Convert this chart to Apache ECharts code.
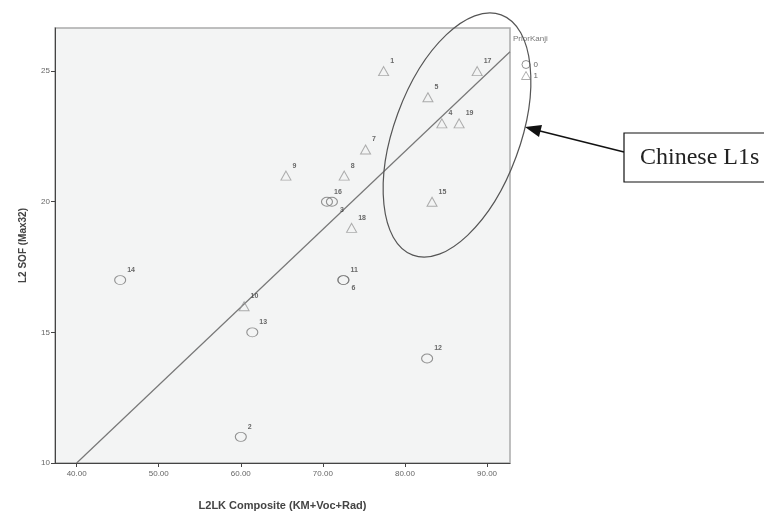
<!DOCTYPE html>
<html><head><meta charset="utf-8">
<script src="https://cdn.jsdelivr.net/npm/echarts@6/dist/echarts.min.js"></script>
<style>html,body{margin:0;padding:0;background:#fff}#c{width:764px;height:516px}</style>
</head><body><div id="c"></div>
<script>
// ---- data ----
const circleIds = ['2','3','6','11','12','13','14','16'];
const circleX   = [60.0, 71.1, 72.5, 72.5, 82.7, 61.4, 45.3, 70.5];
const circleY   = [11, 20, 17, 17, 14, 15, 17, 20];
const triIds = ['1','4','5','7','8','9','10','15','17','18','19'];
const triX   = [77.4, 84.5, 82.8, 75.2, 72.6, 65.5, 60.4, 83.3, 88.8, 73.5, 86.6];
const triY   = [25, 23, 24, 22, 21, 21, 16, 20, 25, 19, 23];
const fitX = [40, 92.8];
const fitY = [10, 25.74];
const xTicks = [40, 50, 60, 70, 80, 90];
const yTicks = [10, 15, 20, 25];
const groupNames = ['0', '1'];
const legendTitle = 'PriorKanji';
const xTitle = 'L2LK Composite (KM+Voc+Rad)';
const yTitle = 'L2 SOF (Max32)';
const noteText = 'Chinese L1s';
// labels drawn below-right instead of above-right
const belowLabels = ['3', '6'];

function pts(ids, xs, ys) {
  return ids.map((id, i) => ({
    value: [xs[i], ys[i], id],
    label: { offset: belowLabels.includes(id) ? [0, 8] : [-1, -10] }
  }));
}
const labelStyle = {
  show: true, position: 'right', distance: 2,
  formatter: p => p.value[2],
  fontSize: 7, fontWeight: 'bold', color: '#444', fontFamily: 'Arial, Liberation Sans'
};

const chart = echarts.init(document.getElementById('c'), null, {renderer: 'canvas'});
const D2R = Math.PI / 180;
chart.setOption({
  animation: false,
  backgroundColor: '#fff',
  grid: { left: 55, right: 254, top: 28, bottom: 46, show: true,
          backgroundColor: '#f3f4f4', borderColor: '#aaa', borderWidth: 1.5 },
  xAxis: {
    type: 'value', min: 37.36, max: 92.8,
    name: xTitle, nameLocation: 'middle', nameGap: 37,
    nameTextStyle: { fontSize: 11, fontWeight: 'bold', color: '#444', fontFamily: 'Arial, Liberation Sans' },
    axisLine: { show: true, lineStyle: { color: '#444', width: 1 } },
    axisTick: { show: true, length: 4, customValues: xTicks, lineStyle: { color: '#444' } },
    axisLabel: { customValues: xTicks, formatter: v => v.toFixed(2), fontSize: 8, color: '#666', margin: 7 },
    splitLine: { show: false }
  },
  yAxis: {
    type: 'value', min: 10, max: 26.65,
    name: yTitle, nameLocation: 'middle', nameGap: 27,
    nameTextStyle: { fontSize: 10, fontWeight: 'bold', color: '#444', fontFamily: 'Arial, Liberation Sans' },
    axisLine: { show: true, lineStyle: { color: '#444', width: 1 } },
    axisTick: { show: true, length: 4, customValues: yTicks, lineStyle: { color: '#444' } },
    axisLabel: { customValues: yTicks, fontSize: 8, color: '#666', margin: 5 },
    splitLine: { show: false }
  },
  legend: {
    orient: 'vertical', left: 516, top: 55, itemGap: 2,
    itemWidth: 9, itemHeight: 8,
    itemStyle: { color: 'rgba(0,0,0,0)', borderWidth: 1 },
    textStyle: { fontSize: 8, color: '#666', padding: [0,0,0,-2] },
    data: [{ name: groupNames[0], icon: 'circle' }, { name: groupNames[1], icon: 'triangle' }]
  },
  series: [
    { type: 'line', data: fitX.map((x, i) => [x, fitY[i]]), symbol: 'none', clip: true,
      lineStyle: { color: '#777', width: 1.2 }, silent: true, z: 1 },
    { name: groupNames[0], type: 'scatter', data: pts(circleIds, circleX, circleY),
      symbol: 'circle', symbolSize: [11, 9],
      itemStyle: { color: 'rgba(0,0,0,0)', borderColor: '#777', borderWidth: 1 },
      label: labelStyle, z: 3 },
    { name: groupNames[1], type: 'scatter', data: pts(triIds, triX, triY),
      symbol: 'triangle', symbolSize: [10, 9],
      itemStyle: { color: 'rgba(0,0,0,0)', borderColor: '#999', borderWidth: 1 },
      label: labelStyle, z: 3 }
  ],
  graphic: [
    { type: 'text', left: 513, top: 35,
      style: { text: legendTitle, fontSize: 8, fill: '#777', fontFamily: 'Arial, Liberation Sans' } },
    { type: 'ellipse', x: 457, y: 135, rotation: -20.2 * D2R,
      shape: { cx: 0, cy: 0, rx: 63, ry: 128 },
      style: { fill: 'none', stroke: '#555', lineWidth: 1.2 }, z: 10 },
    { type: 'line', shape: { x1: 624, y1: 152, x2: 538, y2: 130.5 },
      style: { stroke: '#111', lineWidth: 1.5 }, z: 10 },
    { type: 'polygon', shape: { points: [[525, 127], [542, 125], [539, 137]] },
      style: { fill: '#111' }, z: 10 },
    { type: 'rect', shape: { x: 624, y: 133, width: 150, height: 49 },
      style: { fill: '#fff', stroke: '#111', lineWidth: 1.2 }, z: 10 },
    { type: 'text', x: 640, y: 158,
      style: { text: noteText, fontSize: 24, fill: '#222', fontFamily: 'Liberation Serif', verticalAlign: 'middle' }, z: 11 }
  ]
});
</script></body></html>
